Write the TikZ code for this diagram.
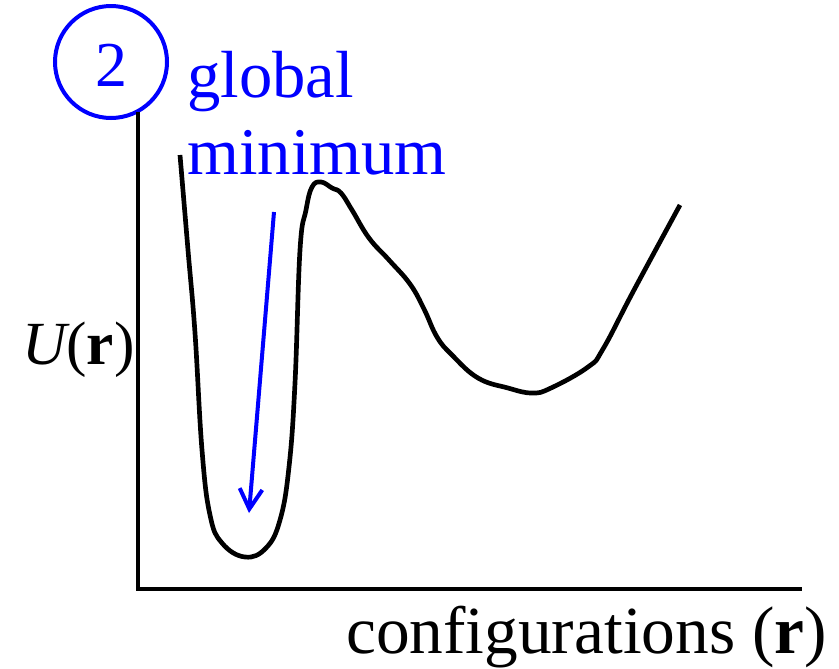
\documentclass[tikz,border=0pt]{standalone}
\usepackage{fontspec}
\setmainfont{Liberation Serif}
\usetikzlibrary{arrows.meta}
\definecolor{pureblue}{RGB}{0,0,255}
\tikzset{
  axisline/.style={line width=3.5pt, line join=miter},
  energy/.style={line width=3.5pt, line join=round},
  bluearrow/.style={pureblue, line width=3pt, -{Straight Barb[length=15pt,width=17pt,line width=3pt]}},
  lbl/.style={inner sep=0pt, anchor=base west},
}
\begin{document}
\begin{tikzpicture}[x=0.75pt,y=-0.75pt]
\useasboundingbox (0,0) rectangle (839,668);
% circled number
\draw[pureblue, line width=3pt] (111,62) circle[radius=56];
\node[pureblue, inner sep=0pt, font=\fontsize{48}{58}\selectfont] (num) at (111,65) {2};
% axes
\coordinate (ytop) at (138,112);
\coordinate (orig) at (138,589);
\coordinate (xend) at (802,589);
\draw[axisline] (ytop) -- (orig) -- (xend);
% labels
\node[lbl, pureblue, font=\fontsize{50}{58}\selectfont] (g1) at (187,97) {global};
\node[lbl, pureblue, font=\fontsize{50}{58}\selectfont] (g2) at (187,174) {minimum};
\node[lbl, font=\fontsize{46}{54}\selectfont] (ylab) at (22,364) {\itshape U\upshape(\textbf{r})};
\node[lbl, font=\fontsize{50.5}{60}\selectfont] (xlab) at (346,653) {configurations (\textbf{r})};
% energy curve
\draw[energy] plot[smooth, tension=0.7] coordinates {
(180,155) (188,250) (195,333) (202,450) (210,515) (222,543) (245,557) (266,548)
(280,520) (289,467) (295,383) (300,250) (306,210) (312,187) (321,182) (332,188)
(341,193) (352,210) (369,238) (389,260) (410,284) (424,309) (437,337) (452,355)
(478,378) (508,388) (532,393) (551,388) (588,367) (603,349) (634,290) (680,205)};
% arrow
\coordinate (a1) at (274,212);
\coordinate (a2) at (249,513);
\draw[bluearrow] (a1) -- (a2);
\end{tikzpicture}
\end{document}
